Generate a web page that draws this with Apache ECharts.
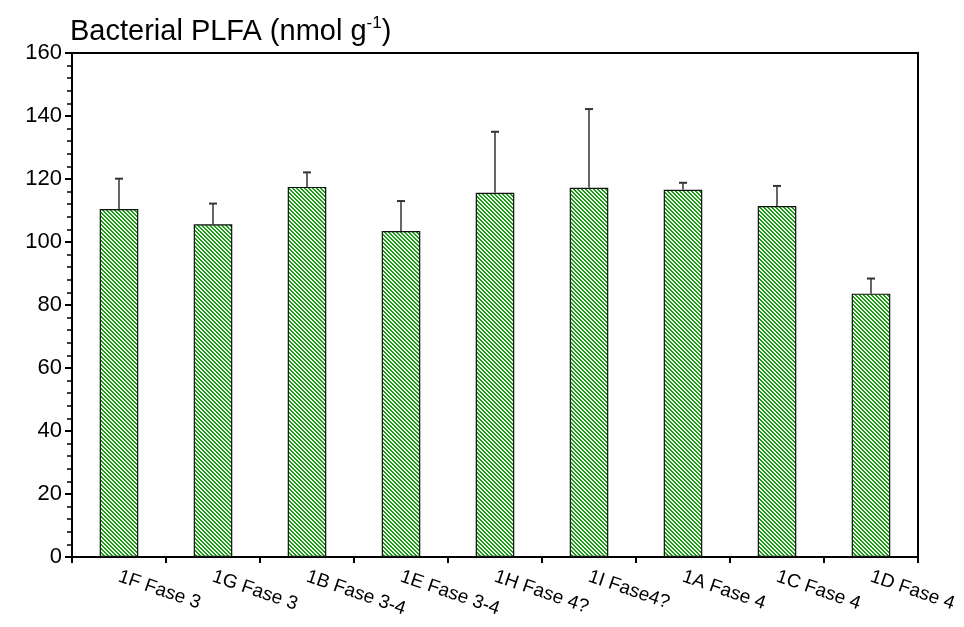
<!DOCTYPE html>
<html><head><meta charset="utf-8">
<script src="https://cdn.jsdelivr.net/npm/echarts@6/dist/echarts.min.js"></script>
<style>html,body{margin:0;padding:0;background:#fff}#c{width:964px;height:627px}</style>
</head><body><div id="c"></div>
<script>
const categories = ['1F Fase 3','1G Fase 3','1B Fase 3-4','1E Fase 3-4','1H Fase 4?','1I Fase4?','1A Fase 4','1C Fase 4','1D Fase 4'];
const means = [110.5, 105.6, 117.5, 103.5, 115.6, 117.2, 116.6, 111.4, 83.6];
const errors = [9.6, 6.6, 4.6, 9.5, 19.4, 25.0, 2.2, 6.4, 4.8];
const yTicks = {min: 0, max: 160, interval: 20};

const pc = document.createElement('canvas');
pc.width = 4; pc.height = 4;
const ctx = pc.getContext('2d');
ctx.fillStyle = '#e9f6e4'; ctx.fillRect(0,0,4,4);
ctx.fillStyle = '#1f9a1f';
for (let y=0;y<4;y++) for (let x=0;x<4;x++) { const d=((x-y)%4+4)%4; if (d===0||d===1) ctx.fillRect(x,y,1,1); }

const errData = means.map((m,i)=>[i, m, m+errors[i]]);
const chart = echarts.init(document.getElementById('c'));
const font = 'Arial, "Liberation Sans", sans-serif';
chart.setOption({
  animation:false,
  title:{text:'Bacterial PLFA (nmol g{sup|-1})', left:65, top:10,
    textStyle:{fontFamily:font, fontSize:29, fontWeight:'normal', color:'#000',
      rich:{sup:{fontSize:17, fontFamily:font, color:'#000', padding:[0,0,16,0]}}}},
  grid:{left:72, right:46, top:53, bottom:70, show:true, borderColor:'#000', borderWidth:2, backgroundColor:'transparent'},
  xAxis:{type:'category', data:categories,
    axisLine:{lineStyle:{color:'#000', width:2}},
    axisTick:{show:true, length:6, lineStyle:{color:'#000', width:2}},
    axisLabel:{rotate:-19, color:'#000', fontFamily:font, fontSize:19, margin:19, interval:0},
    splitLine:{show:false}},
  yAxis:{type:'value', min:yTicks.min, max:yTicks.max, interval:yTicks.interval,
    axisLine:{show:true, lineStyle:{color:'#000', width:2}},
    axisTick:{show:true, length:7, lineStyle:{color:'#000', width:2}},
    minorTick:{show:true, splitNumber:5, length:5, lineStyle:{color:'#000', width:1.5}},
    axisLabel:{color:'#000', fontFamily:font, fontSize:22, margin:10},
    splitLine:{show:false}},
  series:[
    {type:'bar', data:means, barWidth:'41%',
      itemStyle:{color:{image:pc, repeat:'repeat'}, borderColor:'#111', borderWidth:1.2}},
    {type:'custom', data:errData, z:5,
      encode:{x:0, y:[1,2]},
      renderItem:function(params, api){
        const i = api.value(0);
        const b = api.coord([i, api.value(1)]);
        const t = api.coord([i, api.value(2)]);
        const w = 4;
        return {type:'group', children:[
          {type:'line', shape:{x1:b[0], y1:b[1], x2:t[0], y2:t[1]}, style:{stroke:'#333', lineWidth:1.5}},
          {type:'line', shape:{x1:t[0]-w, y1:t[1], x2:t[0]+w, y2:t[1]}, style:{stroke:'#333', lineWidth:2}}
        ]};
      }}
  ]
});
</script></body></html>
